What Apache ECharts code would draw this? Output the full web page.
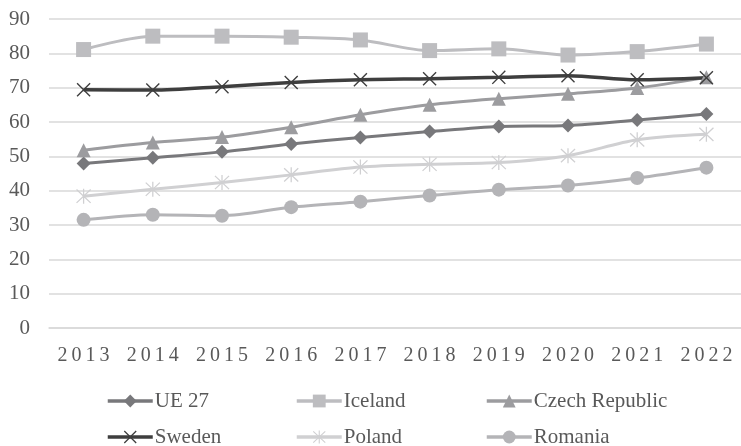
<!DOCTYPE html>
<html>
<head>
<meta charset="utf-8">
<script src="https://cdn.jsdelivr.net/npm/echarts@6/dist/echarts.min.js"></script>
<style>
  html, body { margin: 0; padding: 0; background: #fff; }
  #chart { width: 741px; height: 446px; }
</style>
</head>
<body>
<div id="chart"></div>
<script>
// years on the x axis
var years = ['2013', '2014', '2015', '2016', '2017', '2018', '2019', '2020', '2021', '2022'];
var yTicks = [0, 10, 20, 30, 40, 50, 60, 70, 80, 90];

// values
var ue27    = [47.9, 49.6, 51.3, 53.6, 55.5, 57.2, 58.7, 59.0, 60.6, 62.3];
var iceland = [81.1, 85.0, 85.0, 84.7, 83.9, 80.8, 81.3, 79.5, 80.5, 82.7];
var czech   = [51.8, 54.0, 55.6, 58.5, 62.1, 65.0, 66.8, 68.2, 69.9, 73.0];
var sweden  = [69.4, 69.3, 70.3, 71.5, 72.3, 72.6, 73.0, 73.5, 72.3, 72.9];
var poland  = [38.4, 40.4, 42.4, 44.6, 46.9, 47.7, 48.2, 50.2, 54.8, 56.4];
var romania = [31.5, 33.0, 32.7, 35.2, 36.8, 38.6, 40.3, 41.5, 43.7, 46.7];

var FONT = '"Liberation Serif", "Times New Roman", serif';
var TXT = '#595959';

// thin X mark and asterisk drawn as filled paths
var crossPath = 'path://M0,1.4L1.4,0L10,8.6L18.6,0L20,1.4L11.4,10L20,18.6L18.6,20L10,11.4L1.4,20L0,18.6L8.6,10Z';
var starPath = 'path://M9.2,0L10.8,0L10.8,20L9.2,20Z M0.6,1.7L1.7,0.6L19.4,18.3L18.3,19.4Z M18.3,0.6L19.4,1.7L1.7,19.4L0.6,18.3Z';

function mkSeries(name, data, color, symbol, size, width) {
    return {
        name: name,
        type: 'line',
        data: data,
        smooth: 0.3,
        symbol: symbol,
        symbolSize: size,
        showSymbol: true,
        color: color,
        lineStyle: { color: color, width: width },
        itemStyle: { color: color },
        emphasis: { disabled: true }
    };
}

// one legend per column, two rows each
function legendCol(left, names) {
    return {
        orient: 'vertical',
        left: left,
        top: 390,
        height: 80,
        padding: 0,
        itemWidth: 45,
        itemHeight: 16,
        itemGap: 14,
        data: names,
        selectedMode: false,
        lineStyle: { width: 3.5 },
        textStyle: { fontFamily: FONT, fontSize: 21, color: TXT, lineHeight: 22, padding: [0, 0, 0, -3] }
    };
}

var chart = echarts.init(document.getElementById('chart'));
chart.setOption({
    animation: false,
    backgroundColor: '#fff',
    grid: { left: 49, right: -11, top: 19, bottom: 118, containLabel: false },
    legend: [
        legendCol(106, ['UE 27', 'Sweden']),
        legendCol(295, ['Iceland', 'Poland']),
        legendCol(485, ['Czech Republic', 'Romania'])
    ],
    xAxis: {
        type: 'category',
        data: years,
        boundaryGap: true,
        axisLine: { lineStyle: { color: '#d9d9d9', width: 1.5 } },
        axisTick: { show: false },
        axisLabel: {
            fontFamily: FONT,
            fontSize: 20,
            color: TXT,
            margin: 18,
            formatter: function (v) { return v.split('').join('\u2009'); }
        }
    },
    yAxis: {
        type: 'value',
        min: yTicks[0],
        max: yTicks[yTicks.length - 1],
        interval: 10,
        axisLine: { show: false },
        axisTick: { show: false },
        splitLine: { lineStyle: { color: '#d9d9d9', width: 1.5 } },
        axisLabel: { fontFamily: FONT, fontSize: 21, color: TXT, margin: 19 }
    },
    series: [
        mkSeries('UE 27', ue27, '#78787b', 'diamond', 14, 3),
        mkSeries('Iceland', iceland, '#bdbdc0', 'rect', 15, 3),
        mkSeries('Czech Republic', czech, '#9c9c9f', 'triangle', 14, 3),
        mkSeries('Sweden', sweden, '#3e3e3e', crossPath, 14, 3.5),
        mkSeries('Poland', poland, '#d0d0d2', starPath, 15, 3),
        mkSeries('Romania', romania, '#b4b4b7', 'circle', 14, 3)
    ]
});
</script>
</body>
</html>
